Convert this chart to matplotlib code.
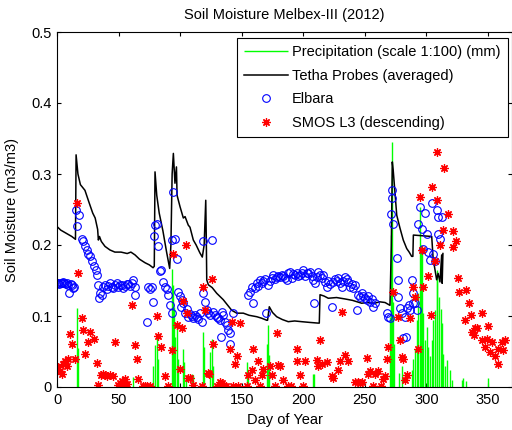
import numpy as np
import matplotlib.pyplot as plt

plt.rcParams['font.family'] = ['Liberation Sans', 'DejaVu Sans']

# precipitation events (day, mm/100)
rain_day = [16, 17.3, 61.5, 78.2, 79.6, 81, 81.8, 93.1, 94.2, 94.9, 95.8, 97.2, 98,
            102.6, 103.5, 105, 109.4, 110.2, 118.8, 119.6, 124.2, 125.6, 126.4,
            154, 155, 170.3, 171.6, 172.4, 208.2, 209, 270.4, 271.2, 272.3, 273.2,
            274, 278, 280, 288, 289.4, 290.7, 292.1, 293.4, 294.8, 295.5, 296.2,
            297.5, 298.9, 300.2, 301.5, 302.9, 304.3, 305.6, 307, 308.3, 308.9,
            310.4, 311.5, 312.4, 313.7, 315, 316.4, 319.1, 321, 329, 330, 332, 350.3]
rain_val = [0.111, 0.055, 0.014, 0.029, 0.059, 0.075, 0.040, 0.166, 0.143, 0.113,
            0.071, 0.087, 0.040, 0.054, 0.035, 0.012, 0.018, 0.017, 0.077, 0.057,
            0.050, 0.068, 0.030, 0.035, 0.020, 0.061, 0.087, 0.045, 0.019, 0.019,
            0.099, 0.214, 0.345, 0.120, 0.060, 0.020, 0.030, 0.024, 0.040, 0.054,
            0.094, 0.132, 0.254, 0.200, 0.193, 0.104, 0.066, 0.085, 0.057, 0.043,
            0.066, 0.094, 0.108, 0.151, 0.165, 0.127, 0.110, 0.090, 0.047, 0.030,
            0.038, 0.024, 0.010, 0.010, 0.012, 0.008, 0.013]

# theta probes (averaged)
probe_day = [0, 3, 6, 9, 12, 15, 15.5, 17, 19, 22.7, 26, 29, 31, 33, 33.6, 34.5, 36,
             39, 43, 47, 52, 57, 60, 63.4, 67, 71.5, 75, 78, 79, 79.6, 81, 83, 86, 89,
             91.5, 92.5, 93.5, 94.5, 95.8, 97, 97.5, 99.9, 102.6, 104, 106.6, 108,
             110.7, 113, 116, 118, 119.5, 120.8, 121.3, 121.6, 122.9, 126, 129.7,
             135, 141.9, 146, 151.3, 156, 162.2, 166, 170.3, 171, 172.4, 175, 178.4,
             183, 187.8, 193, 198.7, 205, 212, 213, 213.6, 217, 220.3, 227, 233.9,
             240, 247.4, 252, 258, 262, 266.4, 270.4, 271.5, 272.3, 273, 275.9,
             278.5, 281.2, 284, 286, 288, 289, 289.4, 304.3, 305.6, 306.5, 308.3,
             309.5, 311, 312.4, 312.8, 313.4]
probe_val = [0.226, 0.221, 0.218, 0.215, 0.212, 0.208, 0.327, 0.300, 0.285, 0.277,
             0.260, 0.245, 0.238, 0.222, 0.207, 0.212, 0.205, 0.198, 0.193, 0.190,
             0.190, 0.188, 0.190, 0.186, 0.180, 0.175, 0.172, 0.168, 0.170, 0.303,
             0.270, 0.245, 0.220, 0.190, 0.167, 0.200, 0.300, 0.329, 0.287, 0.310,
             0.270, 0.254, 0.238, 0.240, 0.228, 0.225, 0.207, 0.200, 0.189, 0.183,
             0.200, 0.263, 0.200, 0.151, 0.144, 0.140, 0.132, 0.123, 0.108, 0.104,
             0.104, 0.101, 0.099, 0.097, 0.094, 0.094, 0.113, 0.105, 0.099, 0.095,
             0.092, 0.093, 0.092, 0.091, 0.090, 0.090, 0.130, 0.128, 0.125, 0.126,
             0.124, 0.122, 0.118, 0.119, 0.118, 0.120, 0.119, 0.115, 0.200, 0.317,
             0.306, 0.242, 0.224, 0.207, 0.195, 0.190, 0.184, 0.184, 0.214, 0.212,
             0.177, 0.170, 0.151, 0.160, 0.148, 0.186, 0.146, 0.188]

# ELBARA radiometer
elbara_day = [0, 1, 2, 3, 4, 5, 6, 7, 8, 9, 10, 11, 12, 13, 14, 15.4, 16.5, 17.9, 20,
              21.4, 22.7, 24.1, 25.4, 26.8, 28.2, 30.3, 31.4, 32.2, 33, 34, 35, 36.3,
              37.6, 39, 40.3, 41.7, 43, 44.4, 45.7, 47.1, 48.5, 49.8, 51.2, 52.5,
              53.8, 55.2, 56.6, 57.9, 59.2, 60.6, 62, 63.3, 63.5, 72.8, 74.2, 75.5,
              76.9, 78.2, 79, 79.6, 81, 82.3, 83.6, 84.5, 86.3, 87.7, 89, 90.4, 91.8,
              93.1, 93.8, 93.1, 95.8, 97.2, 98.5, 100, 101.3, 102.6, 101, 104, 105.3,
              106.6, 108, 109.4, 110.7, 112, 113.4, 114.8, 116.1, 117.5, 118.8, 118.8,
              120.2, 121.6, 122.9, 124.2, 125.6, 127, 128.3, 129.7, 131, 132.4, 132.9,
              133.7, 135, 136.4, 137.8, 139.1, 140.5, 140.5, 143.2,
              155.4, 156.7, 158.1, 159.4, 160.8, 162.2, 163.5, 164.9, 166.2, 167.5,
              168.9, 169.7, 171.6, 173, 174.3, 175.7, 177, 178.4, 179.7, 181.1, 182.4,
              183.8, 185.1, 186.5, 187.8, 189.2, 190.5, 191.9, 193.3, 194.6, 196,
              197.3, 198.7, 200, 201.4, 202.7, 204.1, 205.4, 206.8, 208.2, 209, 209.5,
              210.9, 212.2, 213.6, 215, 216.3, 217.6, 219, 220.3, 221.7, 223, 224.4,
              225.7, 227.1, 228.5, 229.8, 231.2, 232.5, 233.9, 235.2, 236.6, 238,
              239.3, 240.7, 242, 243.4, 244.7, 246, 247.4, 248.8, 250.1, 251.5, 252.9,
              254.2, 255.6, 256.9, 258.3, 267.7, 269, 270.4, 271.2, 271.8, 272.3,
              273.1, 275.9, 276.6, 277.2, 278.5, 279.9, 281, 283.5, 282.6, 284, 285.5,
              287, 288, 289.4, 289.5, 290.7, 292.1, 293.4, 294.8, 296.2, 297.5, 298.8,
              300.2, 301.5, 302.9, 304.3, 305.6, 307, 308.3, 309.7, 309.7, 311, 312.4]
elbara_val = [0.147, 0.146, 0.145, 0.147, 0.146, 0.148, 0.146, 0.145, 0.147, 0.144,
              0.132, 0.145, 0.143, 0.140, 0.141, 0.250, 0.227, 0.242, 0.209, 0.205,
              0.199, 0.193, 0.188, 0.184, 0.177, 0.170, 0.165, 0.158, 0.144, 0.125,
              0.132, 0.130, 0.141, 0.144, 0.138, 0.142, 0.146, 0.141, 0.139, 0.144,
              0.146, 0.141, 0.143, 0.144, 0.140, 0.142, 0.145, 0.145, 0.142, 0.147,
              0.151, 0.141, 0.130, 0.092, 0.141, 0.138, 0.141, 0.120, 0.213, 0.228,
              0.230, 0.198, 0.164, 0.165, 0.148, 0.141, 0.138, 0.130, 0.115, 0.104,
              0.274, 0.207, 0.209, 0.180, 0.134, 0.128, 0.123, 0.118, 0.113, 0.104,
              0.110, 0.099, 0.103, 0.100, 0.097, 0.101, 0.099, 0.096, 0.104, 0.092,
              0.132, 0.205, 0.120, 0.108, 0.104, 0.101, 0.207, 0.106, 0.102, 0.099,
              0.097, 0.094, 0.071, 0.106, 0.101, 0.092, 0.088, 0.080, 0.076, 0.061,
              0.104,
              0.130, 0.134, 0.141, 0.118, 0.139, 0.146, 0.142, 0.151, 0.147, 0.149,
              0.152, 0.104, 0.144, 0.150, 0.153, 0.158, 0.152, 0.155, 0.157, 0.155,
              0.158, 0.156, 0.154, 0.151, 0.160, 0.162, 0.153, 0.159, 0.158, 0.160,
              0.156, 0.158, 0.160, 0.165, 0.157, 0.161, 0.160, 0.162, 0.156, 0.151,
              0.118, 0.147, 0.155, 0.162, 0.158, 0.154, 0.158, 0.148, 0.141, 0.150,
              0.145, 0.113, 0.148, 0.152, 0.149, 0.153, 0.146, 0.141, 0.150, 0.155,
              0.152, 0.148, 0.141, 0.145, 0.139, 0.144, 0.108, 0.130, 0.127, 0.132,
              0.128, 0.125, 0.123, 0.128, 0.120, 0.124, 0.113, 0.118, 0.104, 0.099,
              0.097, 0.244, 0.277, 0.266, 0.230, 0.181, 0.127, 0.151, 0.111, 0.104,
              0.069, 0.071, 0.099, 0.111, 0.115, 0.108, 0.151, 0.132, 0.118, 0.118,
              0.108, 0.230, 0.254, 0.223, 0.195, 0.245, 0.216, 0.190, 0.179, 0.259,
              0.188, 0.177, 0.249, 0.240, 0.216, 0.209, 0.240]

# SMOS L3 descending
smos_day = [1, 2.4, 3.8, 5.1, 6.5, 7.9, 9, 10.6, 11.9, 14.6, 16, 17.3, 20, 21.4, 22.7,
            24.9, 26.8, 30, 32.2, 33.6, 35.5, 37, 39, 41, 43, 45.7, 47.1, 49.8, 51,
            52.5, 54, 55.2, 57, 61.2, 63.3, 64.7, 66, 70, 71.5, 73, 75.5, 81, 82.3,
            84.8, 87.7, 90.4, 93.1, 94.5, 97.2, 99.9, 101.3, 102.6, 104.8, 105.3,
            106.6, 108, 110.7, 117.5, 118.8, 120.2, 122.9, 123.5, 125.6, 127, 130,
            132.4, 134, 135.5, 137, 140.5, 141.9, 143.2, 144.6, 145.9, 148.6, 147.3,
            154, 155.4, 158.1, 159.4, 160.5, 163.5, 164.9, 166.2, 167.5, 173, 174.4,
            177, 178.4, 179.7, 181, 183.8, 187.8, 190, 194.6, 195.3, 197.3, 200,
            201.4, 210.9, 212.2, 213.6, 215.5, 219, 223, 224.5, 228.4, 229.8, 231.5,
            233.9, 236.6, 242, 244.5, 246.1, 247.5, 251.5, 252.9, 254.2, 256.9,
            258.2, 260.9, 263, 264.5, 266.4, 267.7, 269, 273.1, 277.2, 278.2, 279.9,
            280.7, 282.6, 284, 286.7, 289.4, 290.7, 293.4, 294.8, 296.2, 297.5,
            301.5, 303.6, 304.3, 307, 308.3, 308.9, 311, 313.2, 314.3, 317.8, 321.3,
            321.9, 324, 325.9, 326.8, 331.3, 332.5, 334.5, 336, 337.3, 338.3, 339.5,
            341, 344.9, 344.9, 347.6, 348.9, 350.3, 351.6, 353, 355.7, 358.4, 358.4,
            361.1, 362.4, 363.8]
smos_val = [0.028, 0.022, 0.018, 0.033, 0.037, 0.029, 0.040, 0.075, 0.060, 0.039,
            0.259, 0.160, 0.097, 0.080, 0.046, 0.064, 0.077, 0.067, 0.034, 0.003,
            0.017, 0.018, 0.017, 0.016, 0.017, 0.015, 0.064, 0.003, 0.006, 0.008,
            0.002, 0.011, 0.004, 0.115, 0.059, 0.040, 0.011, 0.001, 0.001, 0.001,
            0.001, 0.100, 0.072, 0.057, 0.015, 0.001, 0.052, 0.188, 0.088, 0.025,
            0.083, 0.121, 0.200, 0.104, 0.012, 0.012, 0.003, 0.001, 0.141, 0.108,
            0.020, 0.018, 0.152, 0.060, 0.002, 0.007, 0.005, 0.002, 0.002, 0.054,
            0.091, 0.001, 0.032, 0.043, 0.090, 0.001, 0.001, 0.017, 0.024, 0.053,
            0.010, 0.036, 0.001, 0.017, 0.026, 0.029, 0.017, 0.001, 0.076, 0.031,
            0.029, 0.010, 0.001, 0.001, 0.036, 0.054, 0.017, 0.001, 0.037, 0.038,
            0.029, 0.066, 0.033, 0.035, 0.015, 0.012, 0.024, 0.036, 0.106, 0.045,
            0.037, 0.007, 0.007, 0.006, 0.007, 0.041, 0.019, 0.022, 0.001, 0.019,
            0.022, 0.001, 0.011, 0.015, 0.040, 0.057, 0.134, 0.099, 0.066, 0.042,
            0.040, 0.010, 0.017, 0.097, 0.141, 0.127, 0.054, 0.267, 0.193, 0.141,
            0.156, 0.102, 0.281, 0.177, 0.264, 0.331, 0.200, 0.221, 0.308, 0.243,
            0.220, 0.197, 0.205, 0.153, 0.134, 0.094, 0.136, 0.119, 0.101, 0.077,
            0.073, 0.083, 0.083, 0.104, 0.066, 0.057, 0.067, 0.086, 0.050, 0.064,
            0.043, 0.032, 0.054, 0.064, 0.052, 0.066]

fs = 10.5

fig = plt.figure(figsize=(5.12, 4.30), dpi=100)
ax = fig.add_axes([57 / 512, 43 / 430, 455 / 512, 355 / 430])

ax.vlines(rain_day, 0, rain_val, color='#00ff00', lw=1,
          label='Precipitation (scale 1:100) (mm)')
ax.plot(probe_day, probe_val, color='k', lw=1.1, label='Tetha Probes (averaged)')
ax.plot(elbara_day, elbara_val, ls='none', marker='o', ms=5.5, mfc='none',
        mec='#0000ff', mew=0.8, label='Elbara')
ax.plot(smos_day, smos_val, ls='none', marker=(8, 2, 0), ms=6, color='#ff0000',
        mew=0.9, label='SMOS L3 (descending)')

ax.set_xlim(0, 369.5)
ax.set_ylim(0, 0.5)
ax.set_xticks(np.arange(0, 351, 50))
ax.set_yticks([0, 0.1, 0.2, 0.3, 0.4, 0.5])
ax.set_yticklabels(['0', '0.1', '0.2', '0.3', '0.4', '0.5'])
ax.tick_params(direction='in', top=True, right=True, length=3, width=0.8,
               labelsize=fs, pad=4)
for s in ax.spines.values():
    s.set_linewidth(0.8)

ax.set_title('Soil Moisture Melbex-III (2012)', fontsize=fs, pad=9.5)
ax.set_xlabel('Day of Year', fontsize=fs)
ax.set_ylabel('Soil Moisture (m3/m3)', fontsize=fs)
ax.xaxis.set_label_coords(0.5, -0.072)
ax.yaxis.set_label_coords(-0.084, 0.5)

leg = ax.legend(loc='upper right', bbox_to_anchor=(0.991, 0.983), borderaxespad=0,
                fancybox=False, edgecolor='k', framealpha=1, fontsize=fs,
                handlelength=3.0, handletextpad=0.3, labelspacing=0.65,
                borderpad=0.5)
leg.get_frame().set_linewidth(0.8)

fig.savefig('out.png', dpi=100)
